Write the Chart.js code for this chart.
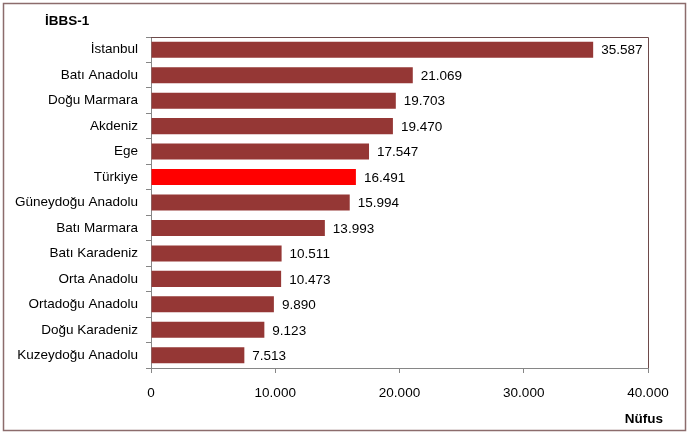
<!DOCTYPE html>
<html><head><meta charset="utf-8">
<script src="https://cdn.jsdelivr.net/npm/chart.js@4/dist/chart.umd.min.js"></script>
<style>html,body{margin:0;padding:0;background:#fff;}canvas{display:block;}</style>
</head><body>
<canvas id="c" width="689" height="436"></canvas>
<script>
const categories = ["İstanbul","Batı Anadolu","Doğu Marmara","Akdeniz","Ege","Türkiye","Güneydoğu Anadolu","Batı Marmara","Batı Karadeniz","Orta Anadolu","Ortadoğu Anadolu","Doğu Karadeniz","Kuzeydoğu Anadolu"];
const values = [35587,21069,19703,19470,17547,16491,15994,13993,10511,10473,9890,9123,7513];
const valueLabels = ["35.587","21.069","19.703","19.470","17.547","16.491","15.994","13.993","10.511","10.473","9.890","9.123","7.513"];
const xTicks = [0,10000,20000,30000,40000];
const xTickLabels = ["0","10.000","20.000","30.000","40.000"];
const titleText = "İBBS-1";
const axisTitle = "Nüfus";

const FONT = "'Liberation Sans', Arial, sans-serif";
const barColors = categories.map(c => c === "Türkiye" ? "#FF0000" : "#953735");

const decor = {
  id: 'decor',
  beforeDraw(chart){
    const ctx = chart.ctx;
    ctx.save();
    ctx.fillStyle = '#fff';
    ctx.fillRect(0,0,chart.width,chart.height);
    ctx.restore();
  },
  afterDraw(chart){
    const ctx = chart.ctx, a = chart.chartArea;
    ctx.save();
    ctx.strokeStyle = '#6e4a4a';
    ctx.lineWidth = 1;
    ctx.beginPath();
    ctx.moveTo(a.left, a.top + 0.5);
    ctx.lineTo(Math.round(a.right) + 0.5, a.top + 0.5);
    ctx.lineTo(Math.round(a.right) + 0.5, a.bottom);
    ctx.stroke();
    ctx.strokeStyle = '#8c6c6c';
    ctx.lineWidth = 1.5;
    ctx.strokeRect(3.5, 3.5, 682, 427);
    const meta = chart.getDatasetMeta(0);
    ctx.fillStyle = '#000';
    ctx.font = "13.5px " + FONT;
    ctx.textAlign = 'left';
    ctx.textBaseline = 'middle';
    meta.data.forEach((el, i) => {
      ctx.fillText(valueLabels[i], el.x + 8, el.y + 1);
    });
    ctx.font = "bold 13.5px " + FONT;
    ctx.textAlign = 'left';
    ctx.fillText(titleText, 45, 21);
    ctx.textAlign = 'right';
    ctx.fillText(axisTitle, 663, 419);
    ctx.restore();
  }
};

new Chart(document.getElementById('c'), {
  type: 'bar',
  data: {
    labels: categories,
    datasets: [{
      data: values,
      backgroundColor: barColors,
      borderWidth: 0,
      barPercentage: 0.63,
      categoryPercentage: 1.0
    }]
  },
  options: {
    indexAxis: 'y',
    responsive: false,
    animation: false,
    devicePixelRatio: 1,
    layout: { padding: { top: 37, right: 41, bottom: 0, left: 0 } },
    plugins: { legend: { display: false }, tooltip: { enabled: false }, title: { display: false } },
    scales: {
      y: {
        afterFit(s){ s.width = 151; },
        grid: { display: true, offset: true, drawOnChartArea: false, drawTicks: true, tickLength: 5, color: '#868686' },
        border: { display: true, color: '#868686' },
        ticks: { color: '#000', font: { family: FONT, size: 13.5 }, padding: 8, autoSkip: false }
      },
      x: {
        min: 0, max: 40000,
        afterFit(s){ s.height = 68; },
        afterBuildTicks(s){ s.ticks = xTicks.map(v => ({ value: v })); },
        grid: { display: true, drawOnChartArea: false, drawTicks: true, tickLength: 5, color: '#868686' },
        border: { display: true, color: '#868686' },
        ticks: { color: '#000', font: { family: FONT, size: 13.5 }, padding: 12, maxRotation: 0,
          callback(v){ const i = xTicks.indexOf(v); return i >= 0 ? xTickLabels[i] : ''; } }
      }
    }
  },
  plugins: [decor]
});
</script>
</body></html>
